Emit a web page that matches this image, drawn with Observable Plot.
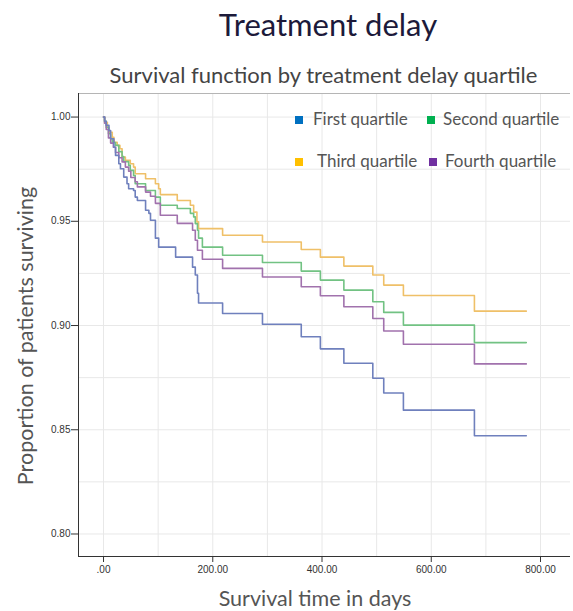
<!DOCTYPE html>
<html>
<head>
<meta charset="utf-8">
<script src="https://cdn.jsdelivr.net/npm/d3@7"></script>
<script src="https://cdn.jsdelivr.net/npm/@observablehq/plot@0.6"></script>
<style>
  body { margin: 0; background: #fff; }
  #wrap { position: relative; width: 573px; height: 611px; overflow: hidden; font-family: Lato, "Open Sans", sans-serif; }
  #title { position: absolute; top: 2px; left: 0; width: 656px; text-align: center; font-size: 31px; color: #1c1a3a; line-height: 44px; white-space: nowrap; }
  #subtitle { position: absolute; top: 60px; left: 0; width: 647px; text-align: center; font-size: 22px; color: #444; line-height: 30px; white-space: nowrap; }
  #chart { position: absolute; top: 88px; left: 0; }
  #ylabel { position: absolute; left: 25px; top: 336px; transform: translate(-50%, -50%) rotate(-90deg); font-size: 21.5px; color: #555; white-space: nowrap; line-height: 24px; }
  #xlabel { position: absolute; top: 586px; left: 0; width: 630px; text-align: center; font-size: 21.5px; color: #555; white-space: nowrap; line-height: 24px; }
  .leg { position: absolute; font-size: 17px; color: #555; white-space: nowrap; line-height: 20px; }
  .sw { position: absolute; width: 8px; height: 8px; }
</style>
</head>
<body>
<div id="wrap">
  <div id="title">Treatment delay</div>
  <div id="subtitle">Survival function by treatment delay quartile</div>
  <div id="chart"></div>
  <div id="ylabel">Proportion of patients surviving</div>
  <div id="xlabel">Survival time in days</div>
  <div id="legend"></div>
</div>
<script>
// ---- data (days, proportion surviving) ----
const quartiles = ["First quartile", "Second quartile", "Third quartile", "Fourth quartile"];

const firstQuartile = [[0,1],[2,0.998],[5,0.996],[10,0.9935],[13,0.9896],[19,0.9855],[22,0.9816],[28,0.9776],[31,0.9752],[37,0.9712],[43,0.9680],[46,0.9656],[55,0.9648],[58,0.9616],[62,0.9600],[77,0.9553],[83,0.9538],[86,0.9505],[95,0.9419],[101,0.9376],[132,0.9328],[163,0.9280],[168,0.9242],[172,0.9155],[174,0.9108],[218,0.9058],[291,0.9006],[362,0.8946],[397,0.8888],[440,0.8819],[493,0.8747],[513,0.8676],[549,0.8594],[679,0.8471],[774,0.8471]];

const secondQuartile = [[0,1],[2,0.998],[5,0.995],[9,0.992],[13,0.9896],[16,0.9878],[22,0.9864],[28,0.9834],[34,0.9810],[37,0.9786],[46,0.9768],[49,0.9744],[55,0.9720],[58,0.9680],[77,0.9648],[95,0.9616],[104,0.9577],[135,0.9561],[159,0.9538],[165,0.9521],[168,0.9489],[172,0.9457],[174,0.9419],[181,0.9376],[218,0.9337],[291,0.9302],[362,0.9261],[397,0.9218],[440,0.9170],[493,0.9114],[513,0.9063],[549,0.9002],[679,0.8918],[774,0.8918]];

const thirdQuartile = [[0,1],[2,0.9975],[7,0.9951],[10,0.9927],[16,0.9903],[19,0.9879],[25,0.9864],[30,0.9848],[34,0.9808],[40,0.9792],[49,0.9776],[55,0.9760],[58,0.9728],[77,0.9704],[95,0.9680],[101,0.9656],[104,0.9628],[135,0.9600],[159,0.9577],[165,0.9544],[171,0.9497],[174,0.9465],[218,0.9433],[291,0.9401],[362,0.9365],[397,0.9328],[440,0.9285],[493,0.9242],[513,0.9194],[549,0.9144],[679,0.9069],[774,0.9069]];

const fourthQuartile = [[0,1],[2,0.997],[5,0.994],[9,0.990],[13,0.9875],[18,0.9855],[22,0.983],[28,0.9805],[34,0.9785],[40,0.976],[46,0.974],[50,0.971],[58,0.9690],[62,0.9665],[77,0.9640],[86,0.9620],[95,0.9586],[104,0.9529],[135,0.9490],[163,0.9457],[168,0.9409],[172,0.9361],[181,0.9318],[218,0.9274],[291,0.9233],[362,0.9186],[397,0.9143],[440,0.9090],[493,0.9034],[513,0.8974],[549,0.8910],[679,0.8816],[774,0.8816]];

const xTicks = [0, 200, 400, 600, 800];
const xTickLabels = [".00", "200.00", "400.00", "600.00", "800.00"];
const yTicks = [0.80, 0.85, 0.90, 0.95, 1.00];
const xGrid = [0, 100, 200, 300, 400, 500, 600, 700, 800];
const yGrid = [0.80, 0.825, 0.85, 0.875, 0.90, 0.925, 0.95, 0.975, 1.00];

const lineColors = ["#6f80bd", "#72c283", "#efc068", "#a172ad"];
const swatchColors = ["#0070c0", "#00b050", "#ffc000", "#7030a0"];

// ---- build ----
const series = [firstQuartile, secondQuartile, thirdQuartile, fourthQuartile];
const drawOrder = [2, 1, 3, 0];
const rows = drawOrder.flatMap(i => series[i].map(([day, surv]) => ({day, surv, group: quartiles[i]})));

const xDomain = [-45.8, 854.9];
const yDomain = [0.7892, 1.0113];

const chart = Plot.plot({
  width: 573,
  height: 523,
  marginTop: 5,
  marginLeft: 78,
  marginRight: 3,
  marginBottom: 55,
  x: {domain: xDomain},
  y: {domain: yDomain},
  color: {domain: quartiles, range: lineColors},
  style: {fontFamily: "'Liberation Sans', Arial, sans-serif", fontSize: "10px", color: "#333", background: "#fff"},
  marks: [
    Plot.gridX(xGrid, {stroke: "#e8e8e8", strokeOpacity: 1}),
    Plot.gridY(yGrid, {stroke: "#e8e8e8", strokeOpacity: 1}),
    Plot.ruleY([yDomain[1]], {stroke: "#b5b5b5"}),
    Plot.ruleX([xDomain[0]], {stroke: "#333"}),
    Plot.ruleY([yDomain[0]], {stroke: "#333"}),
    Plot.axisY({ticks: yTicks, tickFormat: d3.format(".2f"), tickSize: 7, tickPadding: 1, label: null, stroke: "#333"}),
    Plot.axisX({ticks: xTicks, tickFormat: (d, i) => xTickLabels[xTicks.indexOf(d)], tickSize: 6, tickPadding: 3, label: null, stroke: "#333"}),
    Plot.line(rows, {x: "day", y: "surv", z: "group", stroke: "group", curve: "step-after", strokeWidth: 1.6})
  ]
});
document.getElementById("chart").appendChild(chart);

// ---- legend ----
const legendPos = [[295, 120], [427, 120], [295, 162], [429, 162]];
const textLeft = [313, 443, 317, 445];
const leg = document.getElementById("legend");
quartiles.forEach((q, i) => {
  const sw = document.createElement("div");
  sw.className = "sw";
  sw.style.left = legendPos[i][0] + "px";
  sw.style.top = (legendPos[i][1] - 4) + "px";
  sw.style.background = swatchColors[i];
  leg.appendChild(sw);
  const t = document.createElement("div");
  t.className = "leg";
  t.style.left = textLeft[i] + "px";
  t.style.top = (legendPos[i][1] - 11) + "px";
  t.textContent = q;
  leg.appendChild(t);
});
</script>
</body>
</html>
